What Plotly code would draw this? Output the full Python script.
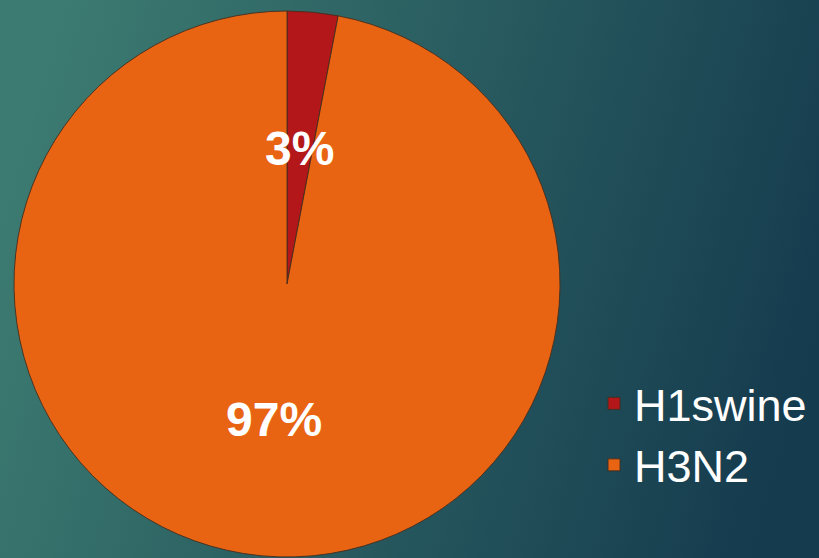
"""
Pie chart of subtype share on a teal gradient background
"""

import base64
import math
import plotly.graph_objects as go

labels = ['H1swine', 'H3N2']
values = [3, 97]
slice_colors = ['#b3171a', '#e86413']

W, H = 819, 558

# pie placement in pixels (center, radius)
cx_px, cy_px, r_px = 287, 284, 273

# gradient background as an svg image
svg = (
    f'<svg xmlns="http://www.w3.org/2000/svg" width="{W}" height="{H}">'
    '<defs><linearGradient id="g" x1="0" y1="0.4" x2="1" y2="0.6">'
    '<stop offset="0" stop-color="#3c7b71"/>'
    '<stop offset="1" stop-color="#153b4e"/>'
    '</linearGradient></defs>'
    f'<rect width="{W}" height="{H}" fill="url(#g)"/></svg>'
)
bg_src = 'data:image/svg+xml;base64,' + base64.b64encode(svg.encode()).decode()

dom_x = [(cx_px - r_px) / W, (cx_px + r_px) / W]
dom_y = [(H - cy_px - r_px) / H, (H - cy_px + r_px) / H]

fig = go.Figure()
fig.add_trace(
    go.Pie(
        labels=labels,
        values=values,
        sort=False,
        direction='clockwise',
        rotation=0,
        marker=dict(colors=slice_colors, line=dict(color='rgba(70,45,30,0.9)', width=1)),
        textinfo='none',
        hoverinfo='label+percent',
        domain=dict(x=dom_x, y=dom_y),
    )
)

# percentage labels at half radius along each slice's mid angle
total = sum(values)
cum = 0
for v in values:
    mid = (cum + v / 2) / total * 2 * math.pi
    cum += v
    px = cx_px + 0.5 * r_px * math.sin(mid)
    py = cy_px - 0.5 * r_px * math.cos(mid)
    fig.add_annotation(
        x=px / W, y=1 - py / H, xref='paper', yref='paper',
        xanchor='center', yanchor='middle',
        text=f'<b>{round(v / total * 100)}%</b>',
        showarrow=False,
        font=dict(family='Arial, Liberation Sans, sans-serif', size=48, color='#ffffff'),
    )

fig.add_layout_image(
    dict(source=bg_src, xref='paper', yref='paper', x=0, y=1, sizex=1, sizey=1,
         xanchor='left', yanchor='top', sizing='stretch', layer='below')
)

fig.update_layout(
    width=W, height=H,
    margin=dict(l=0, r=0, t=0, b=0),
    paper_bgcolor='#2a5a60',
    plot_bgcolor='rgba(0,0,0,0)',
    showlegend=True,
    legend=dict(
        x=0.7253, y=0.222, xanchor='left', yanchor='middle',
        font=dict(family='Arial, Liberation Sans, sans-serif', size=45, color='#ffffff'),
        bgcolor='rgba(0,0,0,0)',
        tracegroupgap=0,
    ),
)

fig.write_html("out.html", config={'displayModeBar': False},
               post_script="document.body.style.margin='0';")
